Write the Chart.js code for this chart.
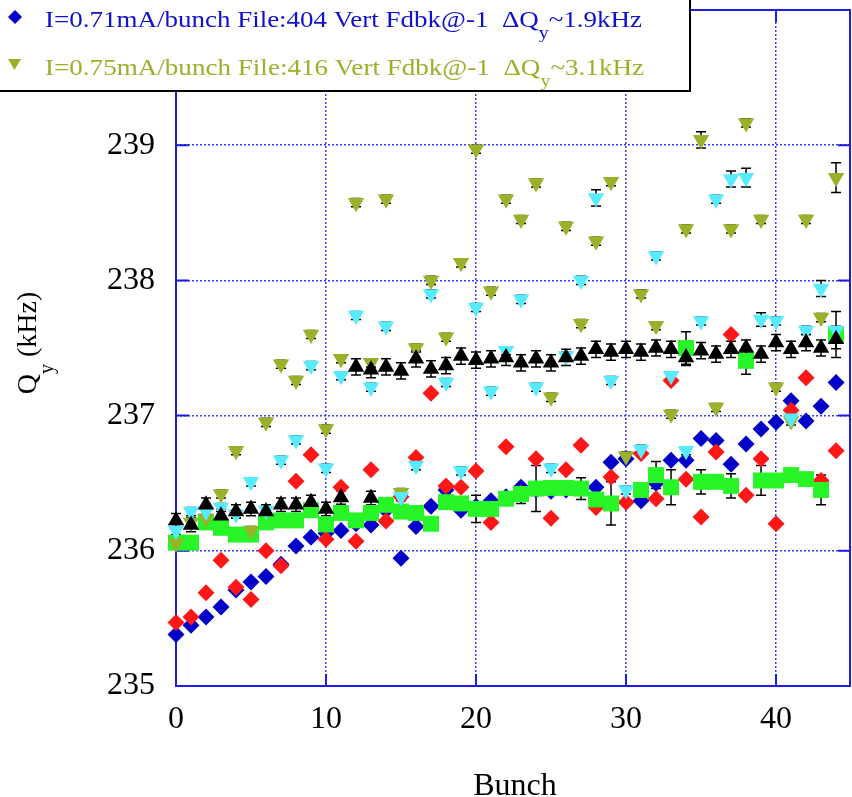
<!DOCTYPE html>
<html>
<head>
<meta charset="utf-8">
<title>Qy per bunch</title>
<script src="https://cdn.jsdelivr.net/npm/chart.js@4.4.0/dist/chart.umd.min.js"></script>
<style>
  html, body { margin: 0; padding: 0; background: #fff; }
  #qyChart { display: block; }
</style>
</head>
<body>
<canvas id="qyChart" width="852" height="797"></canvas>
<script>
// vertical tune Qy (kHz) per bunch number, index = bunch, null = no point
const blueQy = [235.38, 235.45, 235.51, 235.585, 235.71, 235.77, 235.81, 235.90, 236.035, 236.10,
  236.13, 236.15, 236.20, 236.19, 236.30, 235.945, 236.18, 236.33, 236.45, 236.30,
  236.33, 236.37, 236.40, 236.47, 236.45, 236.44, 236.45, 236.46, 236.47, 236.655,
  236.68, 236.37, 236.50, 236.67, 236.67, 236.83, 236.815, 236.64, 236.79, 236.90,
  236.95, 237.11, 236.96, 237.07, 237.245];

const redQy = [235.47, 235.51, 235.69, 235.93, 235.73, 235.64, 236.00, 235.89, 236.515, 236.71,
  236.085, 236.47, 236.07, 236.60, 236.22, 236.40, 236.69, 237.165, 236.48, 236.47,
  236.59, 236.21, 236.77, 236.43, 236.68, 236.24, 236.60, 236.78, 236.32, 236.545,
  236.36, 236.72, 236.385, 237.26, 236.53, 236.25, 236.73, 237.60, 236.41, 236.68,
  236.20, 237.04, 237.28, 236.52, 236.74];

const blackLowQy = [236.225, 236.19, 236.34, 236.26, 236.29, 236.31, 236.29, 236.34, 236.34, 236.36,
  236.31, 236.395, null, 236.39];
const blackLowErr = [0.05, 0.05, 0.05, 0.05, 0.05, 0.05, 0.05, 0.05, 0.05, 0.05,
  0.05, 0.05, 0, 0.05];

const blackHighQy = [null, null, null, null, null, null, null, null, null, null,
  null, null, 237.36, 237.34, 237.36, 237.33, 237.42, 237.345, 237.37, 237.44,
  237.41, 237.42, 237.43, 237.39, 237.42, 237.39, 237.43, 237.44, 237.49, 237.47,
  237.49, 237.47, 237.50, 237.49, 237.43, 237.48, 237.455, 237.49, 237.50, 237.455,
  237.54, 237.49, 237.54, 237.50, 237.565];
const blackHighErr = [0, 0, 0, 0, 0, 0, 0, 0, 0, 0,
  0, 0, 0.06, 0.06, 0.06, 0.06, 0.06, 0.06, 0.06, 0.06,
  0.06, 0.06, 0.06, 0.06, 0.06, 0.06, 0.06, 0.06, 0.06, 0.06,
  0.06, 0.06, 0.06, 0.06, 0.06, 0.06, 0.06, 0.06, 0.06, 0.06,
  0.06, 0.06, 0.06, 0.06, 0.07];

const greenQy = [236.06, 236.06, 236.21, 236.17, 236.12, 236.12, 236.21, 236.225, 236.225, 236.30,
  236.195, 236.28, 236.225, 236.28, 236.34, 236.29, 236.28, 236.20, 236.36, 236.35,
  236.31, 236.31, 236.385, 236.42, 236.46, 236.465, 236.465, 236.46, 236.38, 236.35,
  null, 236.45, 236.56, 236.47, 237.50, 236.51, 236.51, 236.48, 237.405, 236.52,
  236.52, 236.56, 236.53, 236.45, 237.60];
const greenErr = [0.03, 0.03, 0.03, 0.03, 0.03, 0.03, 0.03, 0.03, 0.03, 0.03,
  0.03, 0.03, 0.03, 0.03, 0.03, 0.03, 0.03, 0.03, 0.03, 0.03,
  0.10, 0.03, 0.03, 0.07, 0.17, 0.03, 0.03, 0.08, 0.03, 0.16,
  0, 0.03, 0.10, 0.13, 0.12, 0.09, 0.03, 0.09, 0.10, 0.11,
  0.03, 0.03, 0.03, 0.11, 0.17];

const cyanQy = [236.15, 236.29, 236.29, 236.32, 236.27, 236.51, 236.30, 236.67, 236.82, 237.37,
  236.61, 237.295, 237.74, 237.21, 237.66, 236.40, 236.63, 237.90, 237.245, 236.59,
  237.80, 237.18, 237.48, 237.86, 237.21, 236.61, 237.44, 238.00, 238.61, 237.26,
  236.45, 236.75, 238.18, 237.295, 236.74, 237.70, 238.60, 238.75, 238.76, 237.71,
  237.70, 236.98, 237.63, 237.94, 237.63];
const cyanErr = [0.03, 0.03, 0.03, 0.03, 0.03, 0.03, 0.03, 0.03, 0.03, 0.03,
  0.03, 0.03, 0.03, 0.03, 0.03, 0.03, 0.03, 0.03, 0.03, 0.03,
  0.03, 0.03, 0.03, 0.03, 0.03, 0.03, 0.03, 0.03, 0.06, 0.03,
  0.03, 0.03, 0.03, 0.03, 0.03, 0.03, 0.03, 0.06, 0.07, 0.05,
  0.03, 0.03, 0.03, 0.06, 0.03];

const oliveQy = [236.055, 236.21, 236.24, 236.42, 236.74, 236.15, 236.95, 237.38, 237.26, 237.60,
  236.90, 237.42, 238.575, 237.39, 238.60, 236.43, 237.50, 238.00, 237.58, 238.13,
  238.97, 237.92, 238.60, 238.45, 238.72, 237.135, 238.40, 237.68, 238.29, 238.73,
  236.70, 237.90, 237.665, 237.01, 238.38, 239.04, 237.06, 238.38, 239.165, 238.45,
  237.21, 236.96, 238.45, 237.725, 238.76];
const oliveErr = [0.03, 0.03, 0.03, 0.03, 0.03, 0.03, 0.03, 0.03, 0.03, 0.03,
  0.03, 0.03, 0.03, 0.03, 0.03, 0.03, 0.03, 0.03, 0.03, 0.03,
  0.03, 0.03, 0.03, 0.03, 0.03, 0.03, 0.03, 0.03, 0.03, 0.03,
  0.03, 0.03, 0.03, 0.03, 0.03, 0.06, 0.03, 0.03, 0.03, 0.03,
  0.03, 0.03, 0.03, 0.03, 0.11];

const xTicksStep = 10;
const yTicksStep = 1;

// visible legend rows: [text, subscript, tail]
const legendBlue = ['I=0.71mA/bunch File:404 Vert Fdbk@-1  \u0394Q', 'y', '~1.9kHz'];
const legendOlive = ['I=0.75mA/bunch File:416 Vert Fdbk@-1  \u0394Q', 'y', '~3.1kHz'];

const AXIS_BLUE = '#1c1ce6';
const GRID_BLUE = '#3c3cf2';
const C_BLUE = '#0000c8';
const C_RED = '#ff1616';
const C_GREEN = '#28f528';
const C_CYAN = '#58eaff';
const C_OLIVE = '#99b22a';
const SERIF = "'Liberation Serif', 'Times New Roman', serif";

function toPoints(vals) {
  return vals.map((v, i) => v == null ? null : { x: i, y: v }).filter(Boolean);
}

function series(vals, errs, color, style, radius, rotation, order) {
  return {
    data: toPoints(vals),
    errs: errs,
    pointStyle: style,
    pointRadius: radius,
    pointHoverRadius: radius,
    pointRotation: rotation,
    pointBackgroundColor: color,
    pointBorderWidth: 0,
    backgroundColor: color,
    clip: false,
    order: order
  };
}

// frame around the plot with inward tick marks
const frame = {
  id: 'frame',
  beforeDatasetsDraw(chart) {
    const { ctx, chartArea: a, scales: { x, y } } = chart;
    ctx.save();
    ctx.strokeStyle = AXIS_BLUE;
    ctx.lineWidth = 2;
    ctx.strokeRect(a.left, a.top, a.right - a.left, a.bottom - a.top);
    ctx.beginPath();
    x.ticks.forEach(t => {
      const px = x.getPixelForValue(t.value);
      ctx.moveTo(px, a.bottom); ctx.lineTo(px, a.bottom - 12);
      ctx.moveTo(px, a.top); ctx.lineTo(px, a.top + 12);
    });
    y.ticks.forEach(t => {
      const py = y.getPixelForValue(t.value);
      ctx.moveTo(a.left, py); ctx.lineTo(a.left + 13, py);
      ctx.moveTo(a.right, py); ctx.lineTo(a.right - 12, py);
    });
    ctx.stroke();
    ctx.restore();
  }
};

// black error bars under the markers
const errorBars = {
  id: 'errorBars',
  beforeDatasetsDraw(chart) {
    const { ctx, scales: { x, y } } = chart;
    ctx.save();
    ctx.strokeStyle = '#000';
    ctx.lineWidth = 1.5;
    chart.data.datasets.forEach(ds => {
      if (!ds.errs) return;
      ds.data.forEach(p => {
        const e = ds.errs[p.x];
        if (!e) return;
        const px = x.getPixelForValue(p.x);
        const top = y.getPixelForValue(p.y + e);
        const bot = y.getPixelForValue(p.y - e);
        ctx.beginPath();
        ctx.moveTo(px, top); ctx.lineTo(px, bot);
        ctx.moveTo(px - 5, top); ctx.lineTo(px + 5, top);
        ctx.moveTo(px - 5, bot); ctx.lineTo(px + 5, bot);
        ctx.stroke();
      });
    });
    ctx.restore();
  }
};

function drawSubText(ctx, parts, size, subSize, subDrop, width) {
  // parts = [text, subscript, tail]; drawn from x=0 on the current baseline
  const big = size + 'px ' + SERIF;
  const small = subSize + 'px ' + SERIF;
  ctx.font = big;
  const w0 = ctx.measureText(parts[0]).width;
  const w2 = ctx.measureText(parts[2]).width;
  ctx.font = small;
  const w1 = ctx.measureText(parts[1]).width;
  const total = w0 + w1 + w2;
  const sx = width ? width / total : 1;
  return {
    total: total * sx,
    draw(x0) {
      ctx.save();
      ctx.translate(x0, 0);
      ctx.scale(sx, 1);
      ctx.textAlign = 'left';
      ctx.textBaseline = 'alphabetic';
      ctx.font = big;
      ctx.fillText(parts[0], 0, 0);
      ctx.font = small;
      ctx.fillText(parts[1], w0, subDrop);
      ctx.font = big;
      ctx.fillText(parts[2], w0 + w1, 0);
      ctx.restore();
    }
  };
}

// axis titles and the legend box
const labels = {
  id: 'labels',
  afterDraw(chart) {
    const { ctx, chartArea: a } = chart;
    ctx.save();

    // x title
    ctx.fillStyle = '#000';
    ctx.font = '32px ' + SERIF;
    ctx.textAlign = 'center';
    ctx.textBaseline = 'alphabetic';
    ctx.fillText('Bunch', (a.left + a.right) / 2 + 2, 795);

    // y title, rotated
    ctx.save();
    ctx.translate(36, 343);
    ctx.rotate(-Math.PI / 2);
    const yt = drawSubText(ctx, ['Q', 'y', ' (kHz)'], 28, 20, 17, 0);
    yt.draw(-yt.total / 2);
    ctx.restore();

    // legend
    ctx.fillStyle = '#fff';
    ctx.fillRect(-5, -5, 695, 96);
    ctx.strokeStyle = '#000';
    ctx.lineWidth = 2;
    ctx.strokeRect(-5, -5, 695, 96);

    // blue diamond
    ctx.fillStyle = C_BLUE;
    ctx.beginPath();
    ctx.moveTo(15, 10); ctx.lineTo(22, 17); ctx.lineTo(15, 24); ctx.lineTo(8, 17);
    ctx.closePath();
    ctx.fill();
    // olive down triangle
    ctx.fillStyle = C_OLIVE;
    ctx.beginPath();
    ctx.moveTo(8, 59); ctx.lineTo(21, 59); ctx.lineTo(14.5, 70);
    ctx.closePath();
    ctx.fill();

    ctx.save();
    ctx.translate(0, 27);
    ctx.fillStyle = '#1010d0';
    drawSubText(ctx, legendBlue, 23, 17, 11, 597).draw(45);
    ctx.restore();

    ctx.save();
    ctx.translate(0, 75);
    ctx.fillStyle = C_OLIVE;
    drawSubText(ctx, legendOlive, 23, 17, 11, 599).draw(45);
    ctx.restore();

    ctx.restore();
  }
};

Chart.defaults.font.family = SERIF;
Chart.defaults.color = '#000';

const datasets = [
  series(blackHighQy, blackHighErr, '#000', 'triangle', 9.5, 0, 1),
  series(blackLowQy, blackLowErr, '#000', 'triangle', 9.5, 0, 1),
  series(cyanQy, cyanErr, C_CYAN, 'triangle', 9.5, 180, 2),
  series(oliveQy, oliveErr, C_OLIVE, 'triangle', 9.5, 180, 3),
  series(greenQy, greenErr, C_GREEN, 'rect', 11.3, 0, 4),
  series(redQy, null, C_RED, 'rectRot', 8.5, 0, 5),
  series(blueQy, null, C_BLUE, 'rectRot', 8.5, 0, 6)
];

const qyChart = new Chart(document.getElementById('qyChart'), {
  type: 'scatter',
  data: { datasets: datasets },
  options: {
    responsive: false,
    animation: false,
    events: [],
    layout: { autoPadding: false, padding: { top: 10, right: 2, left: 0, bottom: 0 } },
    plugins: { legend: { display: false }, tooltip: { enabled: false } },
    scales: {
      x: {
        type: 'linear',
        min: 0,
        max: 44.93,
        afterFit(s) { s.height = 111; s.paddingLeft = 0; s.paddingRight = 0; },
        ticks: {
          stepSize: xTicksStep,
          includeBounds: false,
          padding: 14,
          maxRotation: 0,
          font: { size: 32 }
        },
        grid: { color: GRID_BLUE, lineWidth: 1.5, drawTicks: false },
        border: { display: false, dash: [2, 2] }
      },
      y: {
        type: 'linear',
        min: 235,
        max: 240,
        afterFit(s) { s.width = 176; s.paddingTop = 0; s.paddingBottom = 0; },
        ticks: {
          stepSize: yTicksStep,
          includeBounds: false,
          padding: 21,
          font: { size: 32 }
        },
        grid: { color: GRID_BLUE, lineWidth: 1.5, drawTicks: false },
        border: { display: false, dash: [2, 2] }
      }
    }
  },
  plugins: [frame, errorBars, labels]
});
</script>
</body>
</html>
